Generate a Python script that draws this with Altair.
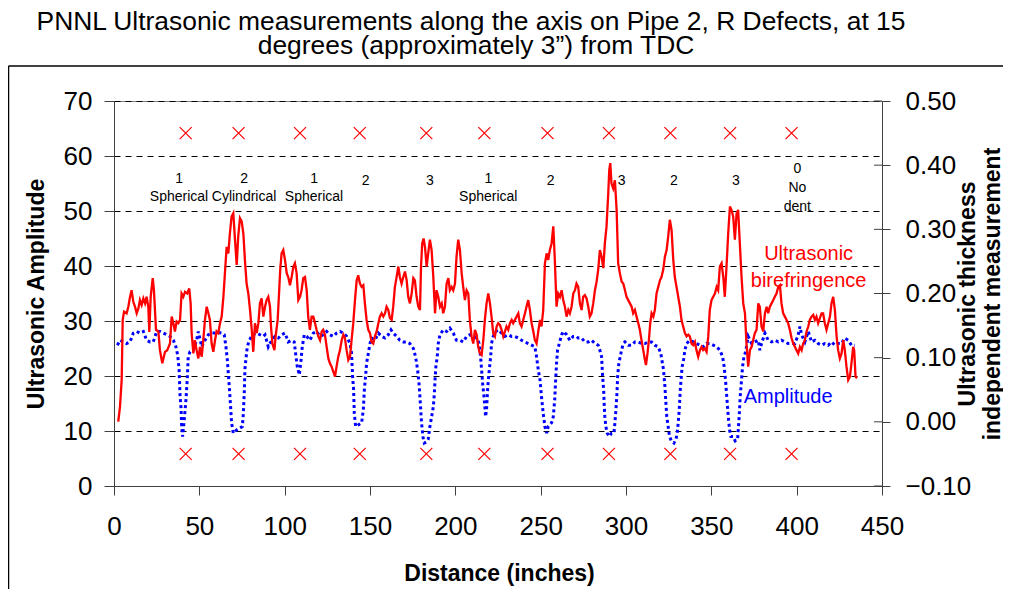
import altair as alt
import pandas as pd

FONT = "Liberation Sans"

# ---------------- data ----------------
red_points = [
    (2.5, 11.7), (3.5, 14.4), (4.5, 19.3), (5.1, 30.2), (5.9, 31.7), (7.4, 31.4), (8.4, 32.6), (9.4, 34.4),
    (10.3, 35.6), (11.3, 33.5), (12.3, 32.6), (13.3, 31.4), (14.3, 32.3), (15.2, 33.8), (16.2, 32.9), (17.2, 34.1),
    (18.2, 33.2), (19.1, 34.4), (20.1, 32.6), (20.7, 28.0), (21.5, 34.4), (22.7, 37.8), (23.4, 35.6), (24.6, 28.4),
    (26.0, 28.1), (26.9, 24.7), (28.3, 22.3), (29.9, 24.4), (31.2, 24.7), (32.8, 25.9), (33.8, 30.8), (34.8, 29.6),
    (35.7, 28.1), (36.7, 29.9), (37.7, 29.6), (38.7, 30.2), (39.6, 35.0), (40.6, 34.4), (41.6, 35.3), (42.9, 35.0),
    (44.1, 35.9), (44.9, 33.2), (45.5, 27.8), (46.5, 24.1), (47.4, 26.5), (48.4, 24.7), (49.4, 23.2), (50.4, 25.3),
    (51.4, 23.5), (52.3, 26.5), (53.3, 30.2), (54.3, 32.6), (55.3, 31.4), (56.2, 30.2), (57.2, 25.9), (58.2, 24.4),
    (59.2, 26.5), (60.1, 28.1), (61.1, 27.8), (62.1, 29.6), (63.1, 30.8), (64.1, 34.4), (65.0, 38.7), (66.0, 43.5),
    (67.0, 42.3), (67.9, 45.9), (68.9, 49.0), (69.9, 49.6), (70.9, 44.8), (71.9, 40.2), (72.8, 45.4), (73.8, 48.7),
    (74.8, 48.1), (75.8, 45.9), (76.7, 41.1), (77.7, 36.8), (78.7, 35.0), (79.7, 32.0), (80.7, 28.4), (81.6, 24.4),
    (82.6, 29.6), (83.6, 27.8), (84.6, 29.6), (85.5, 33.2), (86.5, 34.1), (87.5, 30.8),
    (88.5, 32.6), (89.4, 33.8), (90.4, 34.4), (91.4, 32.6), (92.0, 29.0), (92.8, 25.9), (94.0, 24.7), (94.7, 27.2),
    (95.9, 30.2), (96.7, 35.0), (97.4, 39.3), (98.2, 42.3), (99.2, 42.9), (100.2, 41.1), (101.2, 38.7), (102.1, 38.0),
    (103.1, 36.5), (104.1, 38.0), (105.1, 39.9), (106.0, 40.5), (107.0, 38.7), (108.0, 33.8), (109.0, 34.4), (109.9, 35.6),
    (110.9, 37.8), (111.9, 38.0), (112.9, 35.6), (113.8, 30.8), (114.8, 28.4), (115.8, 30.8), (116.8, 30.8), (117.8, 29.6),
    (118.7, 28.4), (119.7, 27.2), (120.7, 26.5), (121.7, 28.1), (122.6, 28.4), (123.6, 27.5), (124.6, 25.3), (125.6, 23.2),
    (126.5, 22.3), (127.5, 21.7), (128.5, 20.8), (129.5, 19.9), (130.4, 21.7), (131.4, 23.5), (132.4, 24.7), (133.4, 26.5),
    (134.4, 27.5), (135.3, 26.9), (136.3, 24.7), (137.3, 22.9), (138.3, 23.5), (139.2, 26.5), (140.2, 29.6), (141.2, 33.8),
    (142.2, 37.4), (143.1, 38.3), (144.1, 36.8), (145.1, 36.2), (146.1, 36.5), (147.0, 33.2), (148.0, 30.2), (149.0, 28.4),
    (150.0, 27.8), (150.9, 26.2), (151.9, 25.9), (152.9, 27.2), (153.9, 28.1), (154.9, 29.6), (155.8, 30.8), (156.8, 31.4),
    (157.8, 30.8), (158.8, 31.4), (159.7, 32.6), (160.7, 32.0), (161.7, 30.5), (162.7, 30.2), (163.6, 32.6), (164.6, 36.2),
    (165.6, 38.0), (166.6, 39.9), (167.5, 38.0), (168.5, 36.8), (169.5, 38.0), (170.5, 39.0), (171.5, 37.4), (172.4, 34.4),
    (173.4, 33.2), (174.4, 35.0), (175.4, 37.8), (176.3, 37.4), (177.3, 34.4), (178.3, 32.6), (179.3, 32.0), (179.9, 39.9),
    (180.6, 44.1), (181.4, 45.0),
    (182.2, 43.5), (183.2, 39.9), (184.1, 42.3), (185.1, 44.8), (186.1, 42.9), (187.1, 38.0), (188.1, 31.4), (189.0, 35.6),
    (190.0, 34.4), (191.0, 32.6), (192.0, 33.2), (192.9, 31.4), (193.9, 32.6), (194.9, 36.8), (195.9, 37.8), (196.8, 35.6),
    (197.8, 36.2), (198.8, 35.6), (199.8, 36.8), (200.7, 41.7), (201.7, 44.8), (202.7, 42.9), (203.7, 38.7), (204.6, 36.2),
    (205.6, 33.8), (206.6, 35.6), (207.6, 35.0), (208.5, 30.2), (209.5, 27.2), (210.5, 25.9), (211.5, 28.4), (212.5, 27.5),
    (213.4, 25.3), (214.4, 24.1), (215.4, 23.8), (216.4, 26.5), (217.3, 30.2), (218.3, 33.2), (219.3, 35.0), (220.3, 33.2),
    (221.2, 30.8), (222.2, 27.8), (223.2, 27.2), (224.2, 29.0), (225.1, 29.6), (226.1, 29.3), (227.1, 28.4), (228.1, 27.2),
    (229.1, 28.1), (230.0, 29.0), (231.0, 28.4), (232.0, 29.6), (233.0, 30.2), (233.9, 29.6), (234.9, 30.2), (235.9, 30.8),
    (236.9, 31.4), (237.8, 29.6), (238.8, 29.0), (239.8, 30.2), (240.8, 31.4), (241.7, 32.6), (242.7, 33.8), (243.7, 32.0),
    (244.7, 29.6), (245.7, 28.1), (246.6, 26.5), (247.6, 25.9), (248.6, 28.1), (249.6, 30.2), (250.5, 29.0), (251.5, 32.0),
    (252.5, 40.5), (253.5, 42.3), (254.4, 41.1), (255.4, 42.9), (256.4, 44.1), (257.4, 47.2), (258.3, 41.1), (259.3, 32.6),
    (260.3, 35.0), (261.3, 34.4), (262.3, 35.6), (263.2, 33.8), (264.2, 32.6), (265.2, 30.8), (266.2, 32.0), (267.1, 31.4),
    (268.1, 32.6), (269.1, 35.0), (270.1, 35.6), (271.0, 36.8), (272.0, 36.2),
    (273.0, 33.2), (274.0, 32.0), (274.9, 34.4), (275.9, 34.7), (276.9, 34.1), (277.9, 32.6), (278.8, 30.8), (279.8, 31.4),
    (280.8, 33.2), (281.8, 35.6), (282.8, 37.2), (283.7, 39.3), (284.7, 42.9), (285.7, 41.7), (286.7, 39.6), (287.6, 44.1),
    (288.6, 47.2), (289.6, 53.2), (290.2, 57.5), (290.8, 58.7), (291.5, 55.0), (292.5, 54.1), (293.5, 55.6), (294.5, 50.2),
    (295.4, 40.5), (296.4, 38.7), (297.4, 37.2), (298.4, 36.8), (299.4, 35.6), (300.3, 34.4), (301.3, 33.8), (302.3, 33.2),
    (303.3, 32.6), (304.2, 31.4), (305.2, 32.0), (306.2, 30.8), (307.2, 29.6), (308.1, 28.4), (309.1, 26.5), (310.1, 24.7),
    (311.1, 22.9), (311.7, 22.0), (312.6, 24.1), (313.4, 26.5), (314.2, 29.6), (315.0, 31.4), (316.0, 30.8), (316.9, 32.0),
    (317.9, 35.0), (318.9, 36.2), (319.9, 37.4), (320.8, 38.0), (321.8, 39.3), (322.8, 41.7), (323.8, 42.9), (324.7, 45.3),
    (325.7, 48.4), (326.7, 46.5), (327.7, 41.1), (328.6, 38.0), (329.6, 36.2), (330.6, 34.4), (331.6, 32.6), (332.5, 30.2),
    (333.5, 29.0), (334.5, 27.8), (335.5, 27.2), (336.5, 27.5), (337.4, 27.2), (338.4, 25.9), (339.4, 25.6), (340.4, 26.2),
    (341.3, 24.7), (342.3, 23.5), (343.3, 24.7), (344.3, 25.3), (345.2, 24.7), (346.2, 25.0), (347.2, 24.4), (348.2, 27.2),
    (349.1, 32.0), (350.1, 33.8), (351.1, 34.4), (352.1, 35.0), (353.1, 36.2), (354.0, 35.6), (355.0, 39.9), (356.0, 40.5),
    (357.0, 38.0), (357.9, 34.4), (358.9, 39.9),
    (359.9, 46.0), (360.9, 50.8), (361.8, 50.2), (362.8, 49.0), (363.8, 44.8), (364.8, 49.6), (365.7, 50.2), (366.7, 44.1),
    (367.7, 38.0), (368.7, 33.2), (369.7, 31.4), (370.6, 25.9), (371.6, 21.7), (372.6, 24.7), (373.6, 25.3), (374.5, 26.5),
    (375.5, 27.8), (376.5, 28.4), (377.5, 33.2), (378.4, 32.6), (379.4, 29.0), (380.4, 28.1), (381.4, 31.4), (382.4, 32.6),
    (383.3, 31.4), (384.3, 32.6), (385.3, 33.2), (386.3, 33.8), (387.2, 34.4), (388.2, 35.0), (389.2, 36.2), (390.2, 36.5),
    (391.1, 33.2), (392.1, 31.4), (393.1, 30.8), (394.1, 30.2), (395.0, 29.6), (396.0, 28.4), (397.0, 26.9), (398.0, 25.9),
    (399.0, 25.3), (399.9, 24.7), (400.9, 24.1), (401.9, 25.3), (402.9, 24.7), (403.8, 25.9), (404.8, 26.5), (405.8, 28.1),
    (406.8, 29.0), (407.7, 30.2), (408.7, 30.8), (409.7, 31.1), (410.7, 30.2), (411.6, 30.8), (412.6, 29.6), (413.6, 30.5),
    (414.6, 31.4), (415.5, 31.4), (416.5, 29.6), (417.5, 28.4), (418.5, 29.6), (419.5, 30.8), (420.4, 33.2), (421.4, 34.4),
    (422.4, 32.0), (423.4, 27.2), (424.3, 24.7), (425.3, 23.2), (426.3, 24.1), (427.3, 26.5), (428.2, 24.7), (429.2, 21.7),
    (430.2, 19.3), (431.2, 19.9), (432.1, 22.3), (433.1, 25.3), (433.7, 24.7), (434.5, 19.9), (435.3, 19.6),
]

blue_points = [
    (2.0, 25.6), (3.5, 26.5), (5.5, 26.2), (7.4, 25.9), (9.4, 26.2), (11.3, 27.8), (13.3, 28.1), (15.2, 27.8),
    (17.2, 28.1), (19.1, 26.5), (21.1, 26.2), (23.0, 26.2), (25.0, 28.1), (27.0, 28.1), (28.9, 27.8), (30.9, 27.5),
    (32.8, 27.2), (34.8, 26.5), (36.3, 25.3), (37.3, 23.8), (38.1, 21.4), (38.7, 16.5), (39.3, 14.1), (39.6, 11.1),
    (40.2, 9.0), (41.0, 11.5), (42.2, 15.8), (43.0, 19.9), (43.5, 23.5), (44.5, 24.4), (46.5, 24.7), (48.4, 26.5),
    (49.4, 28.1), (51.4, 25.3), (53.3, 26.5), (55.3, 27.5), (57.2, 27.8), (59.2, 27.8), (61.1, 27.9), (63.1, 27.8),
    (64.6, 27.5), (65.6, 25.3), (66.4, 22.9), (67.4, 18.7), (68.2, 15.0), (68.9, 11.5), (69.9, 9.6), (71.9, 10.2),
    (75.2, 10.8), (75.8, 13.2), (76.4, 17.6), (76.7, 21.2), (77.3, 23.1), (78.1, 25.3), (79.3, 26.5), (81.2, 27.5),
    (83.6, 27.8), (85.5, 27.5), (87.5, 27.2),
    (88.5, 27.5), (90.4, 25.3), (92.4, 26.5), (94.3, 27.2), (96.3, 26.9), (98.2, 27.5), (100.2, 27.8), (102.1, 26.2),
    (104.1, 26.5), (105.6, 26.2), (106.4, 24.1), (107.4, 21.7), (108.6, 20.2), (109.6, 22.9), (110.3, 25.3), (111.5, 27.5),
    (112.9, 27.2), (114.8, 26.5), (116.8, 27.8), (118.7, 28.1), (120.7, 27.2), (122.6, 27.5), (124.6, 28.1), (126.5, 27.5),
    (128.5, 27.2), (130.4, 27.8), (132.4, 28.1), (134.4, 27.8), (136.3, 27.2), (138.3, 25.9), (139.2, 24.1), (139.8, 19.9),
    (140.4, 17.5), (140.8, 13.2), (141.6, 10.8), (143.1, 11.1), (145.1, 11.5), (146.1, 13.9), (146.7, 17.5), (147.4, 19.9),
    (148.0, 22.3), (149.0, 24.1), (150.0, 25.9), (150.9, 26.9), (152.9, 26.5), (154.9, 27.8), (156.8, 27.2), (158.8, 26.9),
    (160.7, 27.5), (162.3, 28.4), (163.6, 27.8), (165.6, 27.2), (167.5, 26.5), (169.5, 26.2), (171.5, 26.2), (173.4, 25.9),
    (175.4, 25.0), (176.7, 23.5), (177.9, 21.1), (178.7, 18.7), (179.5, 15.0), (180.2, 11.5), (181.0, 9.0), (181.8, 7.8),
    (183.0, 8.0), (184.1, 8.5), (185.1, 10.8), (186.1, 12.6), (187.1, 14.4), (187.7, 16.8), (188.1, 19.3), (188.6, 21.7),
    (189.4, 23.5), (190.0, 25.9), (191.0, 27.5), (192.9, 28.4), (194.9, 28.1), (196.8, 28.7), (198.8, 27.8), (200.7, 26.5),
    (202.7, 26.5), (204.6, 26.2), (206.6, 27.2), (208.5, 27.5), (210.5, 27.2), (212.5, 26.9), (214.0, 25.9), (214.8, 23.5),
    (215.4, 21.1), (216.0, 18.7), (216.8, 16.2), (217.3, 14.4), (217.7, 12.6), (218.3, 13.9), (218.9, 17.5), (219.5, 19.9),
    (220.1, 21.7), (220.7, 23.5), (221.2, 25.9), (222.2, 27.2), (223.8, 28.1), (225.1, 28.4), (227.1, 27.8), (229.1, 27.2),
    (231.0, 27.5), (233.0, 27.2), (234.9, 27.2), (236.9, 26.9), (238.8, 26.5), (240.8, 26.2), (242.7, 25.9), (244.7, 25.6),
    (246.6, 25.3), (247.6, 23.5), (248.6, 21.1), (249.6, 19.3), (250.5, 16.2), (251.5, 13.2), (252.5, 10.8), (253.5, 9.6),
    (254.4, 10.8), (256.4, 11.5), (257.4, 12.6), (258.2, 15.6), (258.7, 18.7), (259.3, 22.3), (259.9, 24.7), (260.9, 25.9),
    (262.3, 27.5), (263.2, 28.1), (265.2, 27.5), (267.1, 26.5), (269.1, 27.2), (271.0, 27.2),
    (272.0, 26.9), (274.0, 26.9), (275.9, 26.2), (277.9, 26.2), (279.8, 26.5), (281.8, 25.9), (283.7, 25.6), (284.7, 24.7),
    (285.7, 23.5), (286.3, 19.9), (286.9, 17.5), (287.2, 15.0), (287.6, 12.6), (288.2, 10.8), (289.0, 9.6), (290.2, 9.0),
    (291.5, 9.6), (292.9, 9.6), (293.5, 11.5), (294.1, 13.9), (294.7, 16.8), (295.1, 19.9), (295.8, 22.3), (296.6, 23.5),
    (297.4, 24.7), (298.4, 25.9), (299.4, 26.2), (301.3, 25.6), (303.3, 25.6), (305.2, 26.2), (307.2, 26.2), (309.1, 25.9),
    (311.1, 25.9), (313.0, 26.2), (315.0, 26.2), (316.9, 25.6), (318.9, 25.3), (320.4, 24.1), (321.2, 22.6), (322.0, 21.1),
    (322.8, 18.1), (323.4, 15.0), (323.9, 12.6), (324.7, 10.8), (325.5, 9.0), (326.7, 8.1), (328.1, 7.8), (329.2, 8.4),
    (330.0, 9.6), (330.6, 11.5), (331.2, 13.9), (331.8, 17.5), (332.4, 19.9), (332.9, 21.7), (333.7, 22.9), (334.5, 24.7),
    (335.5, 25.9), (337.4, 26.5), (339.4, 26.2), (341.3, 25.9), (343.3, 25.6), (345.2, 25.3), (347.2, 25.9), (349.1, 25.9),
    (351.1, 25.6), (353.1, 25.3), (355.0, 24.7), (356.6, 23.5), (357.5, 21.7), (358.3, 19.3), (358.9, 16.8), (359.5, 14.4),
    (360.1, 12.0), (360.7, 10.2), (361.5, 9.0), (362.8, 9.0), (364.0, 8.2),
    (365.4, 8.5), (366.3, 12.6), (366.9, 16.2), (367.7, 19.3), (368.3, 21.7), (369.1, 23.5), (370.1, 24.4), (371.6, 27.2),
    (373.6, 25.9), (375.5, 26.2), (377.5, 26.5), (378.4, 24.7), (379.4, 25.9), (381.4, 27.8), (383.3, 26.5), (385.3, 26.2),
    (387.2, 26.5), (389.2, 26.2), (391.1, 26.5), (393.1, 26.2), (395.0, 25.9), (397.0, 25.9), (399.0, 25.9), (400.9, 27.5),
    (401.9, 29.0), (402.9, 27.5), (404.8, 26.2), (406.8, 28.1), (408.7, 26.2), (410.7, 26.5), (412.6, 25.9), (414.6, 25.6),
    (416.5, 25.9), (418.5, 25.6), (420.4, 26.2), (422.4, 25.6), (424.3, 25.9), (426.3, 25.9), (428.2, 26.9), (430.2, 26.5),
    (432.1, 25.6), (434.1, 25.6),
]

# defect locations (x markers, right-axis units)
marker_x = [42, 73, 109, 144, 183, 217, 254, 290, 326, 361, 397]
marker_levels = [0.45, -0.05]

# defect annotations (left-axis units)
note_x = [38.1, 38.1, 76.2, 76.2, 117.2, 117.2, 147.5, 185.1, 219.3, 219.3, 255.8, 297.4, 328.1, 364.4, 400.4, 400.4, 400.4]
note_y = [55.8, 52.6, 55.8, 52.6, 55.8, 52.6, 55.5, 55.5, 55.8, 52.6, 55.5, 55.5, 55.5, 55.5, 57.6, 54.2, 50.8]
note_text = ["1", "Spherical", "2", "Cylindrical", "1", "Spherical", "2", "3", "1", "Spherical",
             "2", "3", "2", "3", "0", "No", "dent"]

red_label_x = [407, 407]
red_label_y = [42.2, 37.3]
red_label_text = ["Ultrasonic", "birefringence"]
blue_label_x = [395]
blue_label_y = [16.2]
blue_label_text = ["Amplitude"]

left_ticks = [0, 10, 20, 30, 40, 50, 60, 70]
right_ticks = [-0.1, 0.0, 0.1, 0.2, 0.3, 0.4, 0.5]
x_ticks = [0, 50, 100, 150, 200, 250, 300, 350, 400, 450]

title_line1 = "PNNL Ultrasonic measurements along the axis on Pipe 2, R Defects, at 15"
title_line2 = "degrees (approximately 3\u201d) from TDC"

# ---------------- tables ----------------
red_df = pd.DataFrame(red_points, columns=["x", "y"])
blue_df = pd.DataFrame(blue_points, columns=["x", "y"])
notes_df = pd.DataFrame({"x": note_x, "y": note_y, "t": note_text})
red_lab_df = pd.DataFrame({"x": red_label_x, "y": red_label_y, "t": red_label_text})
blue_lab_df = pd.DataFrame({"x": blue_label_x, "y": blue_label_y, "t": blue_label_text})
markers_df = pd.DataFrame([(x, v) for v in marker_levels for x in marker_x], columns=["x", "v"])
rticks_df = pd.DataFrame({"v": right_ticks})
dummy = pd.DataFrame({"a": [0]})

W, H = 768, 385
AX = "#404040"

x_scale = alt.Scale(domain=[0, 450], nice=False, zero=False)
x_axis = alt.Axis(values=x_ticks, title="Distance (inches)", titleFontSize=23, titleFontWeight="bold",
                  titleX=385, titleY=87, titleBaseline="middle", titleAlign="center",
                  labelFontSize=26, labelPadding=18, tickSize=9, grid=False, labelFlush=False,
                  labelOverlap=False, domainColor=AX, tickColor=AX)
X = alt.X("x:Q", scale=x_scale, axis=x_axis)

left_scale = alt.Scale(domain=[0, 70], nice=False, zero=False)
left_axis = alt.Axis(orient="left", values=left_ticks, title="Ultrasonic Amplitude", titleFontSize=23,
                     titleFontWeight="bold", titleAngle=270, titleX=-78, titleY=192.5,
                     titleBaseline="middle", titleAlign="center", labelFontSize=26, labelPadding=12,
                     tickSize=10, grid=True, gridDash=[6, 5], gridColor="black", gridOpacity=1,
                     domainColor=AX, tickColor=AX, labelFlush=False, labelOverlap=False)
YL = alt.Y("y:Q", scale=left_scale, axis=left_axis)

right_scale = alt.Scale(domain=[-0.1, 0.5], nice=False, zero=False)
right_axis = alt.Axis(orient="right", values=right_ticks, format=".2f",
                      title=["Ultrasonic thickness", "independent measurement"], titleFontSize=23,
                      titleFontWeight="bold", titleAngle=270, titleX=85, titleY=192.5,
                      titleBaseline="middle", titleAlign="center", titleLineHeight=25,
                      labelFontSize=26, labelPadding=15, tickSize=8, grid=False,
                      domainColor=AX, tickColor=AX, labelFlush=False, labelOverlap=False)
YR = alt.Y("v:Q", scale=right_scale, axis=right_axis)

blue_line = alt.Chart(blue_df).mark_line(color="#0000FF", strokeWidth=3, strokeDash=[3, 3],
                                         strokeCap="butt").encode(x=X, y=YL)
red_line = alt.Chart(red_df).mark_line(color="#FF0000", strokeWidth=2.3).encode(x=X, y=YL)
notes = alt.Chart(notes_df).mark_text(font=FONT, fontSize=14, color="black").encode(x=X, y=YL, text="t:N")
red_lab = alt.Chart(red_lab_df).mark_text(font=FONT, fontSize=20, color="#FF0000").encode(x=X, y=YL, text="t:N")
blue_lab = alt.Chart(blue_lab_df).mark_text(font=FONT, fontSize=20, color="#0000FF").encode(x=X, y=YL, text="t:N")

# chart title drawn as text above the plot area
title1 = alt.Chart(pd.DataFrame({"t": [title_line1]})).mark_text(
    font=FONT, fontSize=26.4, color="black", align="center", baseline="middle").encode(
    x=alt.value(W / 2 - 27), y=alt.value(-79), text="t:N")
title2 = alt.Chart(pd.DataFrame({"t": [title_line2]})).mark_text(
    font=FONT, fontSize=26.4, color="black", align="center", baseline="middle").encode(
    x=alt.value(W / 2 - 22), y=alt.value(-55), text="t:N")

frame_top = alt.Chart(dummy).mark_rule(color="black", strokeWidth=1.5).encode(
    x=alt.value(-105.5), x2=alt.value(900), y=alt.value(-35))
frame_left = alt.Chart(dummy).mark_rule(color="black", strokeWidth=1.5).encode(
    x=alt.value(-105.5), y=alt.value(-35), y2=alt.value(520))

left_group = alt.layer(frame_top, frame_left, title1, title2, blue_line, red_line, notes, red_lab, blue_lab)

markers = alt.Chart(markers_df).mark_point(shape="M-1,-1L1,1M-1,1L1,-1", size=144, filled=False,
                                           color="#FF0000", strokeWidth=1.2, opacity=1).encode(x=X, y=YR)
inner_ticks = alt.Chart(rticks_df).mark_rule(color=AX).encode(
    x=alt.value(W - 8), x2=alt.value(W), y=YR)

right_group = alt.layer(inner_ticks, markers)

chart = alt.layer(left_group, right_group).resolve_scale(y="independent").properties(
    width=W, height=H,
    autosize=alt.AutoSizeParams(type="none"),
    padding={"left": 106, "top": 93, "right": 121, "bottom": 103},
).configure_view(stroke="#808080", strokeWidth=1).configure_axis(
    labelFont=FONT, titleFont=FONT, labelColor="black", titleColor="black"
)

chart.save("out.html", embed_options={"renderer": "svg", "actions": False})
